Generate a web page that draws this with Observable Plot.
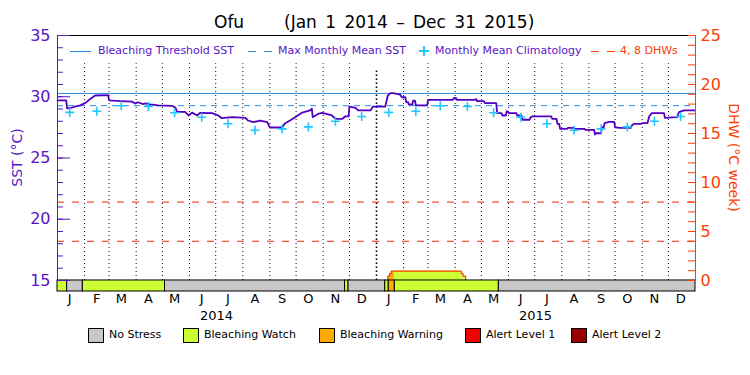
<!DOCTYPE html>
<html><head><meta charset="utf-8">
<script src="https://cdn.jsdelivr.net/npm/d3@7"></script>
<script src="https://cdn.jsdelivr.net/npm/@observablehq/plot@0.6"></script>
<style>
body{margin:0;background:#fff;font-family:"DejaVu Sans",sans-serif;}
#wrap{position:relative;width:750px;height:375px;overflow:hidden;background:#fff;}
#title{height:30px;position:relative;font-size:17px;color:#000;}
#title span{position:absolute;top:12px;line-height:20px;white-space:nowrap;}
#chart svg{display:block;overflow:visible;}
.tl{position:absolute;top:45px;line-height:12px;font-size:11px;white-space:nowrap;}
.ln{position:absolute;height:0;}
#legend{position:relative;height:55px;}
.box{position:absolute;top:8px;width:14px;height:13px;border:1px solid #000;}
.lt{position:absolute;top:8px;line-height:14px;font-size:11px;color:#000;white-space:nowrap;}
</style></head><body>
<div id="wrap">
  <div id="title"><span style="left:214px">Ofu</span><span style="left:284px;word-spacing:3px">(Jan 1 2014 – Dec 31 2015)</span></div>
  <div id="chart"></div>
  <div id="legend"></div>
  <div id="toplegend"></div>
</div>
<script>
// ---------------- data ----------------
const sstDates = [
"2014-01-01","2014-01-11","2014-01-12","2014-01-17","2014-01-21","2014-01-27","2014-02-02","2014-02-07","2014-02-13","2014-02-28",
"2014-03-01","2014-03-14","2014-03-27","2014-03-31","2014-04-03","2014-04-09","2014-04-12","2014-04-17","2014-04-26","2014-05-12",
"2014-05-16","2014-05-18","2014-05-27","2014-05-31","2014-06-04","2014-06-10","2014-06-13","2014-06-27","2014-07-04","2014-07-08",
"2014-07-20","2014-08-04","2014-08-07","2014-08-13","2014-08-21","2014-08-29","2014-09-01","2014-09-15","2014-09-18","2014-09-24",
"2014-09-30","2014-10-08","2014-10-17","2014-10-19","2014-10-20","2014-10-26","2014-10-31","2014-11-11","2014-11-15","2014-11-23",
"2014-11-26","2014-11-30","2014-12-01","2014-12-08","2014-12-11","2014-12-25","2014-12-28",
"2015-01-11","2015-01-14","2015-01-17","2015-01-20","2015-01-28","2015-01-30","2015-02-03","2015-02-04","2015-02-06","2015-02-07",
"2015-02-11","2015-02-12","2015-02-14","2015-02-15","2015-02-28","2015-03-01","2015-03-29","2015-03-31","2015-04-02","2015-04-03",
"2015-04-23","2015-04-25","2015-04-26","2015-05-04","2015-05-05","2015-05-18","2015-05-19","2015-05-24","2015-05-25","2015-05-29",
"2015-05-30","2015-06-02","2015-06-10","2015-06-11","2015-06-16","2015-06-17","2015-06-25","2015-06-26","2015-06-28","2015-07-20",
"2015-07-21","2015-07-26","2015-07-27","2015-07-29","2015-07-30","2015-08-07","2015-08-08","2015-08-15","2015-08-16","2015-08-27",
"2015-08-28","2015-09-07","2015-09-08","2015-09-09","2015-09-15","2015-09-16","2015-09-18","2015-09-19","2015-09-24","2015-09-30",
"2015-10-01","2015-10-06","2015-10-19","2015-10-20","2015-10-23","2015-10-31","2015-11-01","2015-11-07","2015-11-09","2015-11-12",
"2015-11-26","2015-11-27","2015-12-11","2015-12-13","2015-12-19","2015-12-31"];
const sstValues = [
29.70,29.70,29.05,29.10,29.20,29.30,29.50,29.80,30.10,30.13,
29.70,29.65,29.60,29.45,29.55,29.40,29.45,29.37,29.30,29.26,
29.10,28.77,28.77,28.47,28.70,28.47,28.69,28.66,28.47,28.25,
28.33,28.28,28.06,27.92,28.06,27.92,27.49,27.49,27.82,28.06,
28.33,28.71,28.88,29.02,28.33,28.60,28.69,28.47,28.20,28.20,
28.39,28.39,29.20,29.10,28.88,28.88,29.20,
29.20,30.10,30.29,30.29,30.18,29.96,29.96,29.56,29.56,29.37,
29.37,29.69,29.69,29.29,29.29,29.75,29.75,29.91,29.91,29.75,
29.75,29.80,29.64,29.64,29.48,29.48,28.66,28.66,28.47,28.47,
28.82,28.66,28.66,28.47,28.47,28.12,28.12,28.28,28.39,28.39,
28.20,28.20,27.79,27.79,27.38,27.38,27.46,27.46,27.38,27.38,
27.30,27.30,26.92,27.02,27.02,27.51,27.51,27.84,27.95,27.95,
27.51,27.46,27.46,27.65,27.79,27.79,27.84,27.84,28.39,28.66,
28.66,28.28,28.33,28.74,28.88,28.88];

// monthly mean climatology (Jan..Dec), repeated each year
const climValues = [28.72, 28.82, 29.27, 29.20, 28.69, 28.33, 27.79, 27.27, 27.38, 27.54, 28.00, 28.39];
const years = [2014, 2015];
const mmm = 29.27;                 // Max Monthly Mean SST
const bleachingThreshold = 30.27;  // MMM + 1
const dhwLevels = [4, 8];

// Degree Heating Weeks (°C-weeks)
const dhwDates  = ["2015-01-14","2015-01-14","2015-01-16","2015-01-18","2015-04-08","2015-04-10","2015-04-13"];
const dhwValues = [0, 0.44, 0.70, 0.95, 0.70, 0.44, 0];

// Stress level periods (start date, level index)
const stressStarts = ["2014-01-01","2014-01-12","2014-01-30","2014-05-04","2014-11-26","2014-11-30","2015-01-11","2015-01-15","2015-01-22","2015-05-21"];
const stressLevels = [1,0,1,0,1,0,1,2,1,0];
const stressNames  = ["No Stress","Bleaching Watch","Bleaching Warning","Alert Level 1","Alert Level 2"];
const stressColors = ["#c8c8c8","#ccff33","#ffaa00","#ee0000","#990000"];

const monthLetters = ["J","F","M","A","M","J","J","A","S","O","N","D"];
const sstTicks = [15,20,25,30,35];
const dhwTicks = [0,5,10,15,20,25];

// ---------------- styling ----------------
const purple = "#5a14c8", lineColor = "#5200c4", blue = "#2a8ce6", cyan = "#1ec8ff",
      orange = "#ff3c00", red = "#ff2200";

// ---------------- build tables ----------------
const parse = d3.utcParse("%Y-%m-%d");
const toY = d => 15 + d * 0.8;   // DHW axis (0..25) mapped onto SST axis (15..35)
const barDepth = 0.9;            // stress bar below SST 15
const xStart = parse("2014-01-01"), xEnd = parse("2016-01-01");

const sst = sstDates.map((d, i) => ({date: parse(d), value: sstValues[i]}));
const clim = years.flatMap(y => climValues.map((v, m) => ({date: new Date(Date.UTC(y, m, 15)), value: v})));
const stressEnds = stressStarts.slice(1).concat(["2016-01-01"]);
const stress = stressStarts.map((s, i) => ({start: parse(s), end: parse(stressEnds[i]), level: stressLevels[i]}));
const dhw = dhwDates.map((d, i) => ({date: parse(d), value: dhwValues[i]}));

const first = dhwDates[0], last = dhwDates[dhwDates.length - 1];
const cuts = Array.from(new Set([...dhwDates, ...stressStarts].filter(d => d >= first && d <= last))).sort();
const dhwSegs = [];
for (let i = 0; i < cuts.length - 1; i++) {
  const a = cuts[i], b = cuts[i + 1];
  let v = 0; dhwDates.forEach((d, j) => { if (d <= a) v = dhwValues[j]; });
  let lvl = 0; stressStarts.forEach((d, j) => { if (d <= a) lvl = stressLevels[j]; });
  if (v > 0) dhwSegs.push({start: parse(a), end: parse(b), value: v, level: lvl});
}

const monthStarts = d3.utcMonths(parse("2014-02-01"), xEnd).filter(d => d.getUTCMonth() !== 0);
const yearStarts = [parse("2015-01-01")];
const midMonths = d3.utcMonths(xStart, xEnd).map(d => new Date(Date.UTC(d.getUTCFullYear(), d.getUTCMonth(), 15)));
const midYears = years.map(y => new Date(Date.UTC(y, 6, 2)));

const plus = {draw(context, size) { const r = Math.sqrt(size / Math.PI); context.moveTo(-r, 0); context.lineTo(r, 0); context.moveTo(0, -r); context.lineTo(0, r); }};

const chart = Plot.plot({
  width: 750, height: 290,
  marginTop: 5, marginBottom: 29, marginLeft: 57, marginRight: 55,
  x: {type: "utc", domain: [xStart, xEnd]},
  y: {domain: [15 - barDepth, 35]},
  color: {type: "identity"},
  style: {fontFamily: "DejaVu Sans", overflow: "visible", background: "white"},
  marks: [
    Plot.ruleX(monthStarts, {y1: 15, y2: 32.7, stroke: "#000", strokeDasharray: "1,3"}),
    Plot.ruleX(yearStarts, {y1: 15, y2: 32.3, stroke: "#000", strokeWidth: 1.6, strokeDasharray: "1.5,2.5"}),
    Plot.ruleY([bleachingThreshold], {stroke: blue}),
    Plot.ruleY([mmm], {stroke: blue, strokeDasharray: "6,5"}),
    Plot.ruleY(dhwLevels, {y: toY, stroke: red, strokeDasharray: "7,8"}),
    Plot.rect(dhwSegs, {x1: "start", x2: "end", y1: 15, y2: d => toY(d.value), fill: d => stressColors[d.level]}),
    Plot.line(dhw, {x: "date", y: d => toY(d.value), curve: "step-after", stroke: orange, strokeWidth: 1.2}),
    Plot.line(sst, {x: "date", y: "value", stroke: lineColor, strokeWidth: 1.8}),
    Plot.dot(clim, {x: "date", y: "value", symbol: plus, r: 4.5, stroke: cyan, strokeWidth: 1.6, fill: "none"}),
    Plot.rect(stress, {x1: "start", x2: "end", y1: 15 - barDepth, y2: 15, fill: d => stressColors[d.level], stroke: "#000", strokeWidth: 1}),
    Plot.ruleY([35], {stroke: "#000"}),
    Plot.ruleX([xStart], {y1: 15, y2: 35, stroke: purple}),
    Plot.ruleX([xEnd], {y1: 15, y2: 35, stroke: orange}),
    // left axis
    Plot.axisY(d3.range(15, 36), {anchor: "left", tickSize: -6, stroke: purple, fill: "none", label: null}),
    Plot.axisY(sstTicks, {anchor: "left", tickSize: -13, stroke: purple, fill: "none", label: null}),
    Plot.axisY(sstTicks, {anchor: "left", tickSize: 0, tickPadding: 7, fill: purple, fontSize: 16, label: null}),
    // right axis (DHW)
    Plot.axisY(d3.range(0, 26).map(toY), {anchor: "right", tickSize: -8, stroke: orange, fill: "none", label: null}),
    Plot.axisY(dhwTicks.map(toY), {anchor: "right", tickSize: 0, tickPadding: 5, fill: orange, fontSize: 16, label: null,
      tickFormat: v => String(Math.round((v - 15) / 0.8))}),
    // x axis
    Plot.axisX(midMonths, {anchor: "bottom", tickSize: 0, tickPadding: 2, fill: "#000", fontSize: 13, label: null,
      tickFormat: d => monthLetters[d.getUTCMonth()]}),
    Plot.axisX(midYears, {anchor: "bottom", tickSize: 0, tickPadding: 19, fill: "#000", fontSize: 13, label: null,
      tickFormat: d => String(d.getUTCFullYear())}),
    Plot.text(["SST (°C)"], {text: d => d, frameAnchor: "left", textAnchor: "middle", dx: -40, dy: -6, rotate: -90, fill: purple, fontSize: 14}),
    Plot.text(["DHW (°C week)"], {text: d => d, frameAnchor: "right", textAnchor: "middle", dx: 38, dy: -6, rotate: 90, fill: orange, fontSize: 14})
  ]
});
document.getElementById("chart").appendChild(chart);

// top legend (inside plot)
const tl = document.getElementById("toplegend");
tl.innerHTML = `
  <div class="ln" style="left:70px;width:21px;top:51px;border-top:1px solid ${blue}"></div>
  <div class="tl" style="left:98px;color:${purple}">Bleaching Threshold SST</div>
  <div class="ln" style="left:248px;width:8px;top:51px;border-top:1px solid ${blue}"></div>
  <div class="ln" style="left:264px;width:8px;top:51px;border-top:1px solid ${blue}"></div>
  <div class="tl" style="left:278px;color:${purple}">Max Monthly Mean SST</div>
  <div class="ln" style="left:419px;width:10px;top:50px;border-top:2px solid ${cyan}"></div>
  <div class="ln" style="left:423px;width:0;top:46px;height:10px;border-left:2px solid ${cyan}"></div>
  <div class="tl" style="left:435px;color:${purple}">Monthly Mean Climatology</div>
  <div class="ln" style="left:591px;width:8px;top:51px;border-top:1px solid ${orange}"></div>
  <div class="ln" style="left:607px;width:8px;top:51px;border-top:1px solid ${orange}"></div>
  <div class="tl" style="left:620px;color:${orange}">4, 8 DHWs</div>`;

// bottom legend
const boxX = [88, 183, 319, 465, 571];
const lg = document.getElementById("legend");
lg.innerHTML = stressNames.map((n, i) =>
  `<div class="box" style="left:${boxX[i]}px;background:${stressColors[i]}"></div>` +
  `<div class="lt" style="left:${boxX[i] + 21}px">${n}</div>`).join("");
</script>
</body></html>
